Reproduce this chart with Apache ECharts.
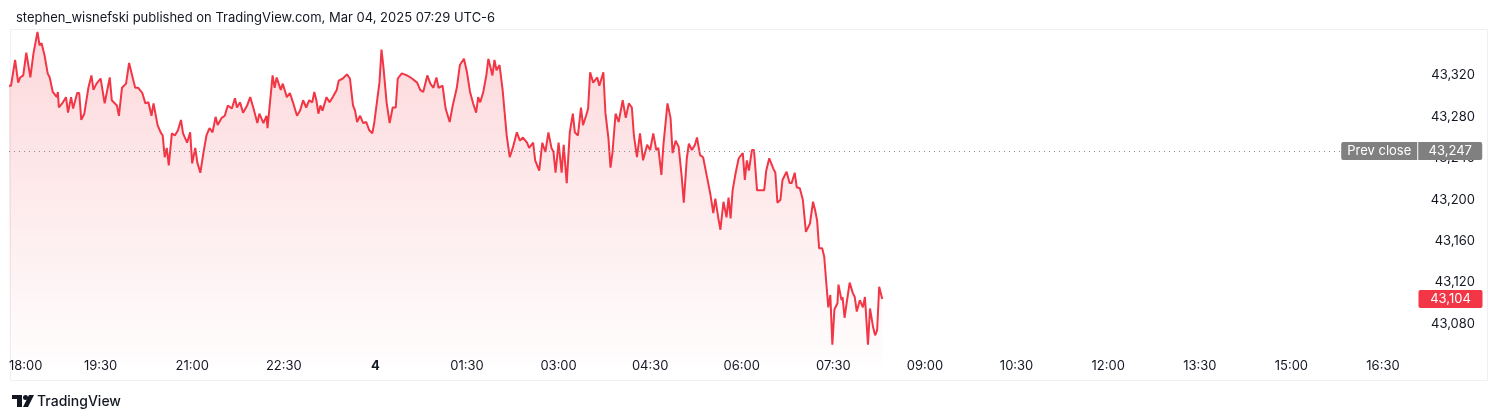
<!DOCTYPE html>
<html>
<head>
<meta charset="utf-8">
<script src="https://cdn.jsdelivr.net/npm/echarts@6/dist/echarts.min.js"></script>
<style>html,body{margin:0;padding:0;background:#fff}#c{width:1500px;height:420px}</style>
</head>
<body>
<div id="c"></div>
<script>
const titleText = 'stephen_wisnefski published on TradingView.com, Mar 04, 2025 07:29 UTC-6';
const brandText = 'TradingView';
// minutes since 18:00 (session start)
const minutes = [0,2,6,9,11,14,17,21,24,28,30,32,35,38,40,43,47,48,49,53,56,58,61,63,67,69,71,74,78,81,83,86,90,94,99,101,106,108,111,115,118,121,124,127,131,134,137,140,142,146,149,151,153,155,157,160,163,166,169,171,175,178,180,183,185,188,191,194,197,200,203,205,209,212,215,219,222,224,227,230,234,237,240,244,246,250,253,254,259,261,263,267,269,273,276,279,283,286,289,292,295,298,300,302,304,306,308,312,315,318,322,324,328,332,335,338,340,342,345,348,351,354,357,359,362,364,366,368,371,374,377,380,382,386,391,396,401,404,407,411,414,417,420,422,426,429,433,436,440,443,447,450,453,456,459,461,463,466,469,471,475,477,479,482,485,489,492,495,499,502,505,509,511,515,517,521,524,527,530,533,535,537,540,543,545,548,551,554,556,559,562,564,567,569,571,574,578,580,584,586,589,591,593,596,599,603,606,609,612,614,617,620,623,627,630,633,636,638,641,643,647,650,652,655,658,661,663,666,668,671,674,676,679,682,686,689,692,694,697,699,702,705,707,709,711,714,717,721,723,725,727,730,732,735,739,742,744,747,751,753,755,758,760,764,767,769,772,774,777,780,783,787,790,792,794,796,799,801,803,805,807,809,811,814,815,818,819,821,823,826,829,831,833,836,839,841,844,846,849,851,853,855,858];
const prices = [43310,43310,43335,43313,43318,43320,43342,43318,43341,43362,43349,43351,43339,43322,43318,43304,43299,43304,43289,43294,43299,43284,43299,43288,43303,43303,43277,43283,43308,43320,43306,43312,43317,43293,43318,43296,43291,43281,43308,43312,43332,43320,43308,43308,43303,43293,43294,43281,43293,43272,43265,43262,43241,43250,43233,43264,43262,43267,43277,43264,43255,43265,43235,43250,43236,43226,43245,43262,43269,43265,43280,43272,43279,43281,43291,43288,43298,43289,43294,43284,43291,43299,43289,43274,43283,43274,43281,43269,43320,43308,43318,43306,43312,43299,43303,43294,43281,43286,43296,43289,43296,43294,43304,43296,43283,43291,43286,43299,43294,43299,43306,43315,43317,43321,43317,43291,43286,43275,43281,43274,43275,43267,43264,43275,43298,43313,43345,43327,43294,43274,43289,43289,43317,43322,43320,43317,43313,43306,43304,43320,43312,43308,43318,43308,43310,43288,43275,43291,43308,43330,43336,43323,43304,43293,43284,43299,43294,43304,43320,43336,43320,43335,43325,43330,43306,43262,43241,43250,43265,43257,43260,43255,43250,43255,43238,43228,43255,43246,43265,43250,43246,43226,43255,43226,43253,43216,43265,43283,43265,43262,43289,43272,43281,43288,43323,43313,43318,43310,43323,43284,43259,43231,43246,43283,43275,43296,43279,43293,43289,43262,43241,43264,43238,43253,43248,43264,43248,43250,43224,43253,43293,43279,43245,43257,43251,43222,43197,43240,43254,43248,43253,43260,43243,43241,43221,43206,43187,43201,43182,43171,43198,43183,43202,43182,43209,43226,43240,43245,43219,43238,43228,43248,43248,43209,43209,43209,43228,43240,43230,43226,43197,43200,43219,43227,43216,43216,43226,43212,43211,43200,43169,43177,43198,43190,43180,43153,43153,43145,43120,43096,43108,43060,43094,43100,43118,43103,43106,43086,43100,43120,43110,43106,43092,43103,43096,43106,43060,43095,43077,43069,43074,43116,43104];
const timeLabels = ['18:00','19:30','21:00','22:30','4','01:30','03:00','04:30','06:00','07:30','09:00','10:30','12:00','13:30','15:00','16:30'];
const priceTicks = [43080,43120,43160,43200,43240,43280,43320];
const prevClose = 43247;
const prevCloseLabel = 'Prev close';

const FONT = 'Inter, "Noto Sans", sans-serif';
const INK = '#131722';
const RED = '#f23645';
const GRAY = '#808080';
const fmt = v => v.toLocaleString('en-US');
const lastPrice = prices[prices.length - 1];

const chart = echarts.init(document.getElementById('c'));
chart.setOption({
  animation: false,
  textStyle: { fontFamily: FONT },
  title: {
    text: titleText, left: 11, top: 7,
    textStyle: { fontSize: 13, fontWeight: 'normal', color: INK, fontFamily: FONT }
  },
  grid: { left: 9, right: 86.5, top: 23.6, bottom: 54.6 },
  xAxis: {
    type: 'value', min: 0, max: 1380, interval: 90,
    axisLine: { show: false }, axisTick: { show: false }, splitLine: { show: false },
    axisLabel: {
      margin: -6, color: INK, fontSize: 13, fontFamily: FONT,
      alignMinLabel: 'left', showMaxLabel: false,
      formatter: v => {
        if (v % 90 !== 0) return '';
        const i = Math.round(v / 90);
        if (i >= timeLabels.length) return '';
        return i === 4 ? '{b|' + timeLabels[i] + '}' : timeLabels[i];
      },
      rich: { b: { fontWeight: 'bold', fontSize: 13, color: INK, fontFamily: FONT } }
    }
  },
  yAxis: {
    type: 'value', position: 'right', min: 43040, max: 43370, interval: 40,
    axisLine: { show: false }, axisTick: { show: false }, splitLine: { show: false },
    axisLabel: {
      align: 'right', margin: 61.5, color: INK, fontSize: 13, fontFamily: FONT,
      showMinLabel: false, showMaxLabel: false,
      formatter: v => priceTicks.includes(v) ? fmt(v) : ''
    }
  },
  series: [{
    type: 'line',
    data: minutes.map((m, i) => [m, prices[i]]),
    showSymbol: false, symbol: 'none',
    lineStyle: { color: RED, width: 2 },
    itemStyle: { color: RED },
    areaStyle: {
      origin: 'start',
      color: new echarts.graphic.LinearGradient(0, 0, 0, 1, [
        { offset: 0, color: 'rgba(242,54,69,0.28)' },
        { offset: 1, color: 'rgba(242,54,69,0.01)' }
      ])
    },
    markLine: {
      silent: true, symbol: 'none', animation: false,
      data: [
        [
          {
            coord: [0, prevClose],
            lineStyle: { color: '#8a8d96', type: [1, 4], width: 1 },
            label: {
              show: true, position: 'end', distance: 1,
              formatter: '{p|' + prevCloseLabel + '}{s|}{v|' + fmt(prevClose) + '}',
              rich: {
                p: { backgroundColor: GRAY, color: '#fff', width: 76, height: 18, lineHeight: 18, align: 'center', fontSize: 13, fontFamily: FONT, borderRadius: [2, 0, 0, 2] },
                s: { width: 1, height: 18 },
                v: { backgroundColor: GRAY, color: '#fff', width: 64, height: 18, lineHeight: 18, align: 'center', fontSize: 13, fontFamily: FONT, borderRadius: [0, 2, 2, 0] }
              }
            }
          },
          { coord: [1308, prevClose] }
        ],
        [
          {
            coord: [1300, lastPrice],
            lineStyle: { color: 'rgba(0,0,0,0)', width: 1 },
            label: {
              show: true, position: 'end', distance: 5,
              formatter: '{r|' + fmt(lastPrice) + '}',
              rich: {
                r: { backgroundColor: RED, color: '#fff', width: 64, height: 18, lineHeight: 18, align: 'center', fontSize: 13, fontFamily: FONT, borderRadius: 2 }
              }
            }
          },
          { coord: [1380, lastPrice] }
        ]
      ]
    }
  }],
  graphic: [
    { type: 'rect', silent: true, z: -10, shape: { x: 10.5, y: 29.5, width: 1477, height: 351 }, style: { fill: null, stroke: '#eef0f4', lineWidth: 1 } },
    { type: 'rect', silent: true, shape: { x: 12, y: 395, width: 10, height: 4 }, style: { fill: INK } },
    { type: 'rect', silent: true, shape: { x: 17, y: 395, width: 5, height: 12 }, style: { fill: INK } },
    { type: 'circle', silent: true, shape: { cx: 25.5, cy: 397.5, r: 2.5 }, style: { fill: INK } },
    { type: 'polygon', silent: true, shape: { points: [[29, 395], [34, 395], [28, 407], [23, 407]] }, style: { fill: INK } },
    { type: 'text', silent: true, x: 37, y: 402, style: { text: brandText, font: '500 14px Inter, "Noto Sans", sans-serif', fill: INK, verticalAlign: 'middle' } }
  ]
});
</script>
</body>
</html>
